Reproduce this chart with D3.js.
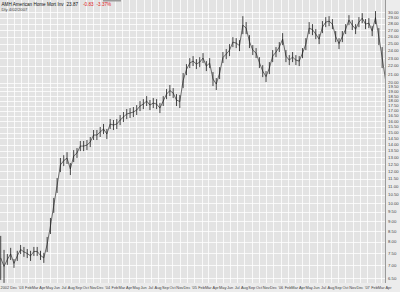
<!DOCTYPE html>
<html>
<head>
<meta charset="utf-8">
<script src="https://cdn.jsdelivr.net/npm/d3@7"></script>
<style>
  body { margin: 0; background: #fff; }
  svg { display: block; font-family: "Liberation Sans", Arial, sans-serif; }
</style>
</head>
<body>
<svg width="400" height="292"></svg>
<script>
// header texts
const title = 'AMH American Home Mort Inv';
const lastPrice = '23.87';
const change = '-0.83';
const changePct = '-3.37%';
const subtitle = 'Dly 4/02/2007';

// one bar every two weeks, starting here
const firstBar = new Date(2002, 9, 7);

// bar highs and lows
const highs = [8.28, 7.64, 7.46, 7.73, 7.25, 7.60, 7.86, 7.77, 7.68, 7.60,
  7.77, 7.77, 7.60, 7.51, 8.23, 9.18, 10.30, 11.55, 12.96, 13.17,
  13.40, 12.59, 13.56, 13.72, 14.29, 14.29, 14.37, 14.62, 15.22, 15.22,
  15.49, 15.76, 15.31, 16.21, 16.12, 16.21, 16.59, 16.88, 17.17, 17.27,
  17.37, 17.57, 17.98, 18.18, 18.50, 18.08, 18.29, 18.18, 17.77, 18.50,
  19.26, 19.71, 19.37, 18.71, 18.61, 21.12, 22.23, 23.01, 23.28, 22.88,
  23.14, 23.69, 22.62, 23.01, 21.24, 20.52, 21.85, 23.83, 24.24, 24.94,
  25.96, 25.81, 25.52, 29.29, 28.31, 26.26, 24.80, 24.38, 23.14, 22.10,
  21.36, 22.49, 24.10, 24.52, 25.23, 26.57, 24.10, 23.42, 23.83, 23.42,
  23.28, 24.38, 25.81, 28.31, 27.98, 27.19, 26.42, 28.47, 29.13, 29.29,
  28.80, 26.88, 25.81, 26.88, 27.98, 29.46, 28.63, 27.98, 29.13, 29.80,
  28.80, 28.97, 27.66, 30.16, 27.35, 24.52, 23.42];
const lows = [6.43, 6.32, 7.01, 7.21, 6.89, 7.17, 7.46, 7.34, 7.29, 7.17,
  7.38, 7.38, 7.21, 7.09, 7.55, 8.37, 9.45, 10.60, 11.95, 12.37,
  12.52, 11.75, 12.66, 12.96, 13.48, 13.48, 13.56, 13.80, 14.37, 14.37,
  14.62, 14.87, 14.45, 15.31, 15.22, 15.31, 15.66, 15.94, 16.21, 16.31,
  16.40, 16.59, 16.97, 17.17, 17.47, 17.07, 17.27, 17.17, 16.78, 17.47,
  18.18, 18.50, 18.29, 17.47, 17.27, 19.37, 20.87, 21.73, 21.98, 21.61,
  21.85, 22.37, 21.36, 21.73, 19.60, 19.15, 20.40, 22.37, 22.88, 23.28,
  24.52, 24.38, 23.96, 26.42, 26.42, 24.38, 23.42, 23.01, 21.73, 20.63,
  20.05, 20.99, 22.49, 23.14, 23.83, 24.80, 22.49, 22.10, 22.49, 22.10,
  21.98, 23.01, 24.10, 26.42, 26.26, 25.67, 24.94, 26.57, 27.50, 27.66,
  27.19, 25.23, 24.24, 25.23, 26.42, 27.82, 27.03, 26.42, 27.50, 28.14,
  27.19, 27.35, 26.11, 27.98, 24.80, 21.73, 17.77];
// last close after the March drop
const lastClose = 22.10;

// price axis labels
const yTicks = [6.5, 7, 7.5, 8, 8.5, 9, 9.5, 10, 10.5, 11, 11.5, 12, 12.5, 13,
  13.5, 14, 14.5, 15, 15.5, 16, 16.5, 17, 17.5, 18, 18.5, 19, 19.5, 20,
  21, 22, 23, 24, 25, 26, 27, 28, 29, 30];

const dates = highs.map((h, i) => d3.timeDay.offset(firstBar, 14 * i));

const W = 400, H = 292;
const plotRight = 385, plotBottom = 283;

const x = d3.scaleTime()
  .domain([new Date(2002, 9, 4), new Date(2007, 3, 3)])
  .range([0, 389]);
const y = d3.scaleLog()
  .domain([6.5, 30])
  .range([278, 12]);

const svg = d3.select('svg');

svg.append('rect')
  .attr('width', W).attr('height', H)
  .attr('fill', '#ececec');

svg.append('rect')
  .attr('width', plotRight).attr('height', plotBottom)
  .attr('fill', '#e3e3e3');

svg.append('clipPath').attr('id', 'plot')
  .append('rect').attr('width', plotRight).attr('height', plotBottom);

// grid
const months = x.ticks(d3.timeMonth.every(1));
const grid = svg.append('g').attr('clip-path', 'url(#plot)');
grid.selectAll('line.v')
  .data(months)
  .join('line')
  .attr('class', 'v')
  .attr('x1', d => Math.round(x(d)) + 0.5)
  .attr('x2', d => Math.round(x(d)) + 0.5)
  .attr('y1', 0).attr('y2', plotBottom)
  .attr('stroke', '#fff')
  .attr('stroke-width', 0.8);
grid.selectAll('line.h')
  .data(yTicks)
  .join('line')
  .attr('class', 'h')
  .attr('x1', 0).attr('x2', plotRight)
  .attr('y1', d => Math.round(y(d)) + 0.5)
  .attr('y2', d => Math.round(y(d)) + 0.5)
  .attr('stroke', '#fff')
  .attr('stroke-width', 0.8);

// price trace: line through bar midpoints plus high-low bars
const mids = dates.map((d, i) => [d, Math.sqrt(highs[i] * lows[i])]);
mids.push([d3.timeDay.offset(dates[dates.length - 1], 6), lastClose]);

const bars = svg.append('g').attr('clip-path', 'url(#plot)');
bars.append('path')
  .datum(mids)
  .attr('fill', 'none')
  .attr('stroke', '#333')
  .attr('stroke-width', 0.7)
  .attr('d', d3.line().x(d => x(d[0])).y(d => y(d[1])));
bars.selectAll('line')
  .data(dates)
  .join('line')
  .attr('x1', d => x(d)).attr('x2', d => x(d))
  .attr('y1', (d, i) => y(highs[i]))
  .attr('y2', (d, i) => y(lows[i]))
  .attr('stroke', '#1a1a1a')
  .attr('stroke-width', 0.8);

// right edge of the plot
svg.append('line')
  .attr('x1', plotRight + 0.5).attr('x2', plotRight + 0.5)
  .attr('y1', 0).attr('y2', plotBottom)
  .attr('stroke', '#9a9a9a');

// price labels
svg.append('g')
  .selectAll('text')
  .data(yTicks)
  .join('text')
  .attr('x', 388)
  .attr('y', d => y(d) + 1.5)
  .attr('font-size', 4.3)
  .attr('fill', '#444')
  .text(d => d.toFixed(2));

// month labels
const fmtMonth = d3.timeFormat('%b');
const fmtYear = d3.timeFormat("'%y");
svg.append('g')
  .selectAll('text')
  .data(months)
  .join('text')
  .attr('x', (d, i) => i === 0 ? 0.5 : x(d))
  .attr('y', 289)
  .attr('text-anchor', (d, i) => i === 0 ? 'start' : 'middle')
  .attr('font-size', 3.9)
  .attr('fill', '#444')
  .text((d, i) => i === 0 ? d.getFullYear() : (d.getMonth() === 0 ? fmtYear(d) : fmtMonth(d)));

// header
svg.append('rect')
  .attr('x', 103).attr('y', 0)
  .attr('width', 18).attr('height', 1.5)
  .attr('fill', '#9a9a9a');

const head = svg.append('text')
  .attr('x', 1.5).attr('y', 5.5)
  .attr('font-size', 4.6);
head.append('tspan').attr('fill', '#111').text(title);
head.append('tspan').attr('dx', 3).attr('fill', '#111').text(lastPrice);
head.append('tspan').attr('dx', 5).attr('fill', '#e02020').text(change);
head.append('tspan').attr('dx', 3).attr('fill', '#e02020').text(changePct);

svg.append('text')
  .attr('x', 1.5).attr('y', 10.5)
  .attr('font-size', 4.2)
  .attr('fill', '#444')
  .text(subtitle);
</script>
</body>
</html>
